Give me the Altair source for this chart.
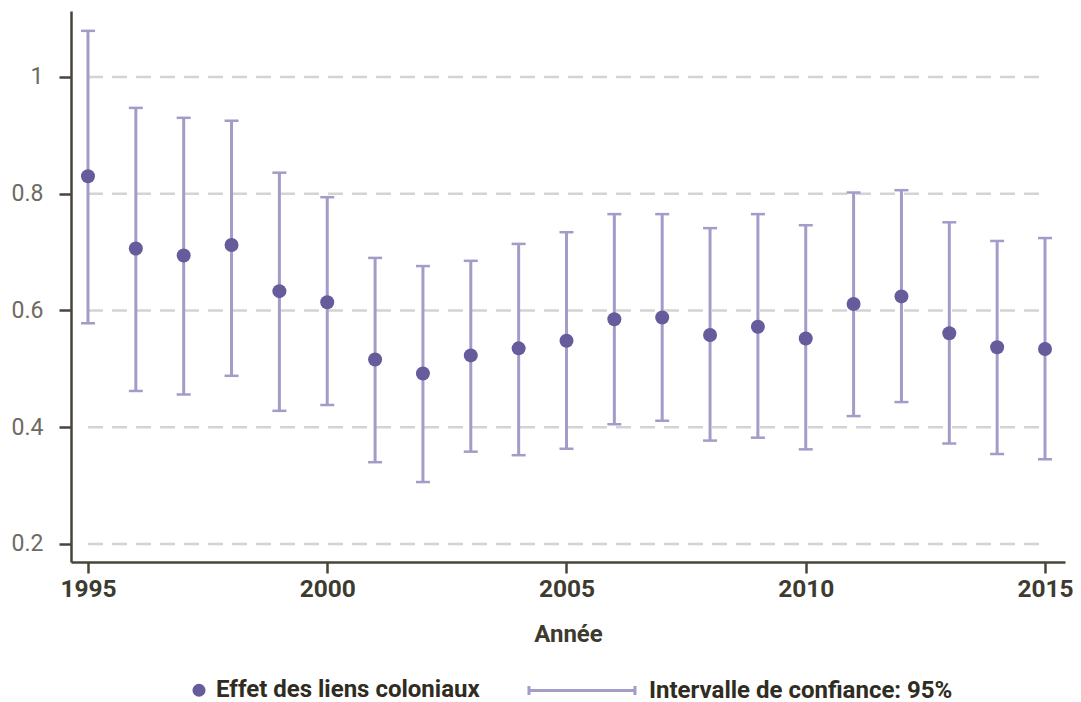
import altair as alt
import pandas as pd

years = list(range(1995, 2016))
estimate = [0.830, 0.706, 0.694, 0.712, 0.633, 0.614, 0.516, 0.492, 0.523, 0.535, 0.548,
            0.585, 0.588, 0.558, 0.572, 0.552, 0.611, 0.624, 0.561, 0.537, 0.534]
ci_low = [0.578, 0.462, 0.456, 0.488, 0.428, 0.438, 0.340, 0.306, 0.358, 0.352, 0.363,
          0.405, 0.411, 0.377, 0.382, 0.362, 0.419, 0.443, 0.372, 0.354, 0.345]
ci_high = [1.079, 0.947, 0.930, 0.925, 0.836, 0.794, 0.690, 0.676, 0.685, 0.714, 0.734,
           0.765, 0.765, 0.741, 0.765, 0.746, 0.802, 0.806, 0.751, 0.719, 0.724]
y_ticks = [0.2, 0.4, 0.6, 0.8, 1.0]
x_ticks = [1995, 2000, 2005, 2010, 2015]
series_names = ["Effet des liens coloniaux", "Intervalle de confiance: 95%"]

DARK = "#665b9b"
LIGHT = "#a39bc8"
AXIS = "#48453a"
FONT = "Roboto"

df = pd.DataFrame({"year": years, "est": estimate, "lo": ci_low, "hi": ci_high,
                   "series": series_names[0]})
grid_df = pd.DataFrame({"y": y_ticks, "x0": years[0], "x1": years[-1]})

xscale = alt.Scale(domain=[1994.645, 2015.418], nice=False, zero=False)
yscale = alt.Scale(domain=[0.169, 1.113], nice=False, zero=False)

xaxis = alt.Axis(values=x_ticks, format="d", title="Année", grid=False,
                 labelFont=FONT, labelFontSize=24.5, labelFontWeight="bold", labelColor="#3d3a2f",
                 labelPadding=4, tickSize=11, tickWidth=2.5, tickColor=AXIS,
                 domainColor=AXIS, domainWidth=2.5,
                 titleFont=FONT, titleFontSize=24, titleFontWeight="bold", titleColor="#3d3a2f",
                 titlePadding=22)
yaxis = alt.Axis(values=y_ticks, format="~g", title=None, grid=False,
                 labelFont=FONT, labelFontSize=23, labelFontWeight="normal", labelColor="#6e6a62",
                 labelPadding=16, tickSize=12, tickWidth=2.5, tickColor=AXIS,
                 domainColor=AXIS, domainWidth=2.5)

grid = alt.Chart(grid_df).mark_rule(color="#d4d4d4", strokeWidth=2.5, strokeDash=[15, 9]).encode(
    x=alt.X("x0:Q", scale=xscale, axis=xaxis),
    x2="x1:Q",
    y=alt.Y("y:Q", scale=yscale, axis=yaxis),
)

bars = alt.Chart(df).mark_rule(color=LIGHT, strokeWidth=3).encode(
    x=alt.X("year:Q", scale=xscale),
    y=alt.Y("lo:Q", scale=yscale),
    y2="hi:Q",
)
cap_lo = alt.Chart(df).mark_tick(color=LIGHT, orient="horizontal", size=14, thickness=2.5, opacity=1).encode(
    x=alt.X("year:Q", scale=xscale),
    y=alt.Y("lo:Q", scale=yscale),
)
cap_hi = alt.Chart(df).mark_tick(color=LIGHT, orient="horizontal", size=14, thickness=2.5, opacity=1).encode(
    x=alt.X("year:Q", scale=xscale),
    y=alt.Y("hi:Q", scale=yscale),
)

ci_path = "M-15.85,-0.7L-15.85,0.7M-15.85,0L0.46,0M0.46,-0.7L0.46,0.7"

legend = alt.Legend(
    title=None, orient="none", direction="horizontal", legendX=116, legendY=667,
    labelFont=FONT, labelFontSize=24, labelFontWeight="bold", labelColor="#2f2c22",
    labelLimit=0,
    symbolSize=169, labelOffset=5, columnPadding=42, padding=0, symbolOpacity=1,
    symbolStrokeWidth=3,
)

points = alt.Chart(df).mark_point(filled=True, size=196, opacity=1, strokeWidth=0.01).encode(
    x=alt.X("year:Q", scale=xscale),
    y=alt.Y("est:Q", scale=yscale),
    fill=alt.Fill("series:N", scale=alt.Scale(domain=series_names, range=[DARK, LIGHT]), legend=legend),
    stroke=alt.Stroke("series:N", scale=alt.Scale(domain=series_names, range=["transparent", LIGHT]), legend=legend),
    shape=alt.Shape("series:N", scale=alt.Scale(domain=series_names, range=["circle", ci_path]), legend=legend),
)

chart = alt.layer(grid, bars, cap_lo, cap_hi, points).properties(
    width=994, height=551,
    background="white",
    autosize=alt.AutoSizeParams(type="none"),
    padding={"left": 63, "top": 3, "right": 8, "bottom": 140},
).configure_view(strokeWidth=0, stroke="transparent")

chart.save("out.html", embed_options={"renderer": "svg", "actions": False})
